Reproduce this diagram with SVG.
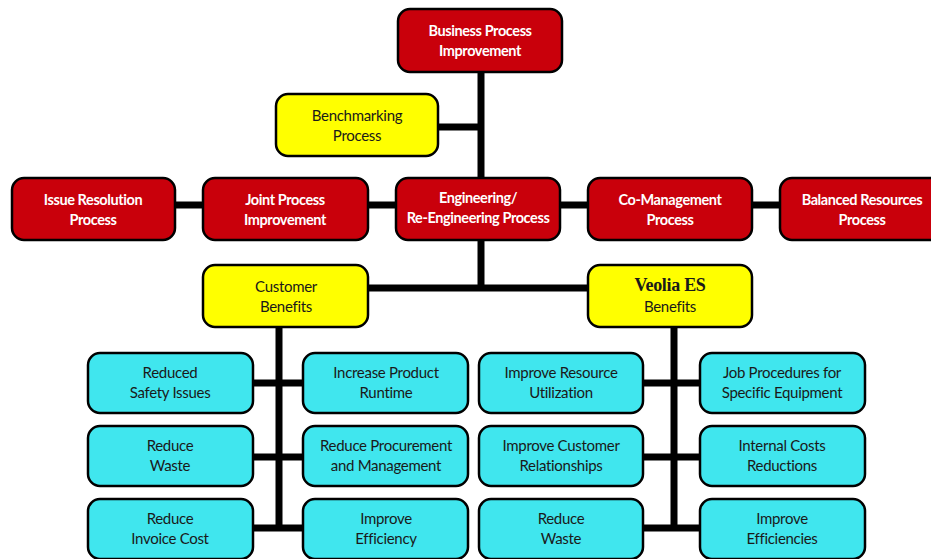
<svg xmlns="http://www.w3.org/2000/svg" width="931" height="559" viewBox="0 0 931 559">
<style>
.box{stroke:#000;stroke-width:2.5}
.red{fill:#C9000B}
.yel{fill:#FFFF00}
.cyan{fill:#40E6EE}
text{font-family:"Lato","Open Sans","Liberation Sans",sans-serif;font-size:15px;text-anchor:middle;letter-spacing:-0.3px}
.wt{fill:#fff;font-weight:bold;font-size:14.5px;letter-spacing:-0.4px}
.dk{fill:#1a1a1a}
.ser{font-family:"Liberation Serif","Times New Roman",serif;font-weight:bold;font-size:18px;letter-spacing:-0.3px}
.conn line{stroke:#000;stroke-width:7}
</style>
<rect width="931" height="559" fill="#fff"/>
<g class="conn" id="connectors">
<line x1="481" y1="70" x2="481" y2="180"/>
<line x1="436" y1="127" x2="481" y2="127"/>
<line x1="173" y1="205" x2="205" y2="205"/>
<line x1="366" y1="205" x2="398" y2="205"/>
<line x1="558" y1="205" x2="590" y2="205"/>
<line x1="750" y1="205" x2="782" y2="205"/>
<line x1="481" y1="238" x2="481" y2="291"/>
<line x1="366" y1="288" x2="590" y2="288"/>
<line x1="279" y1="325" x2="279" y2="531"/>
<line x1="674" y1="325" x2="674" y2="531"/>
<line x1="251" y1="383" x2="305" y2="383"/>
<line x1="251" y1="457" x2="305" y2="457"/>
<line x1="251" y1="528" x2="305" y2="528"/>
<line x1="641" y1="383" x2="702" y2="383"/>
<line x1="641" y1="457" x2="702" y2="457"/>
<line x1="641" y1="528" x2="702" y2="528"/>
</g>
<g id="bpi"><rect class="box red" x="398" y="9" width="164" height="63" rx="12"/><text class="wt" x="480" y="36">Business Process</text><text class="wt" x="480" y="56">Improvement</text></g>
<g id="bench"><rect class="box yel" x="276" y="94" width="162" height="62" rx="12"/><text class="dk" x="357" y="121">Benchmarking</text><text class="dk" x="357" y="141">Process</text></g>
<g id="issue"><rect class="box red" x="12" y="178" width="163" height="62" rx="12"/><text class="wt" x="93" y="205">Issue Resolution</text><text class="wt" x="93" y="225">Process</text></g>
<g id="joint"><rect class="box red" x="203" y="178" width="165" height="62" rx="12"/><text class="wt" x="285" y="205">Joint Process</text><text class="wt" x="285" y="225">Improvement</text></g>
<g id="eng"><rect class="box red" x="396" y="178" width="164" height="62" rx="12"/><text class="wt" x="478" y="203">Engineering/</text><text class="wt" x="478" y="223">Re-Engineering Process</text></g>
<g id="comg"><rect class="box red" x="588" y="178" width="164" height="62" rx="12"/><text class="wt" x="670" y="205">Co-Management</text><text class="wt" x="670" y="225">Process</text></g>
<g id="bal"><rect class="box red" x="780" y="178" width="164" height="62" rx="12"/><text class="wt" x="862" y="205">Balanced Resources</text><text class="wt" x="862" y="225">Process</text></g>
<g id="cust"><rect class="box yel" x="203" y="265" width="165" height="62" rx="12"/><text class="dk" x="286" y="292">Customer</text><text class="dk" x="286" y="312">Benefits</text></g>
<g id="veolia"><rect class="box yel" x="588" y="265" width="164" height="62" rx="12"/><text class="dk ser" x="670" y="291">Veolia ES</text><text class="dk" x="670" y="312">Benefits</text></g>
<g id="c1"><rect class="box cyan" x="88" y="353" width="165" height="60" rx="12"/><text class="dk" x="170" y="378">Reduced</text><text class="dk" x="170" y="398">Safety Issues</text></g>
<g id="c2"><rect class="box cyan" x="88" y="426" width="165" height="60" rx="12"/><text class="dk" x="170" y="451">Reduce</text><text class="dk" x="170" y="471">Waste</text></g>
<g id="c3"><rect class="box cyan" x="88" y="499" width="165" height="60" rx="12"/><text class="dk" x="170" y="524">Reduce</text><text class="dk" x="170" y="544">Invoice Cost</text></g>
<g id="c4"><rect class="box cyan" x="303" y="353" width="165" height="60" rx="12"/><text class="dk" x="386" y="378">Increase Product</text><text class="dk" x="386" y="398">Runtime</text></g>
<g id="c5"><rect class="box cyan" x="303" y="426" width="165" height="60" rx="12"/><text class="dk" x="386" y="451">Reduce Procurement</text><text class="dk" x="386" y="471">and Management</text></g>
<g id="c6"><rect class="box cyan" x="303" y="499" width="165" height="60" rx="12"/><text class="dk" x="386" y="524">Improve</text><text class="dk" x="386" y="544">Efficiency</text></g>
<g id="v1"><rect class="box cyan" x="479" y="353" width="164" height="60" rx="12"/><text class="dk" x="561" y="378">Improve Resource</text><text class="dk" x="561" y="398">Utilization</text></g>
<g id="v2"><rect class="box cyan" x="479" y="426" width="164" height="60" rx="12"/><text class="dk" x="561" y="451">Improve Customer</text><text class="dk" x="561" y="471">Relationships</text></g>
<g id="v3"><rect class="box cyan" x="479" y="499" width="164" height="60" rx="12"/><text class="dk" x="561" y="524">Reduce</text><text class="dk" x="561" y="544">Waste</text></g>
<g id="v4"><rect class="box cyan" x="700" y="353" width="165" height="60" rx="12"/><text class="dk" x="782" y="378">Job Procedures for</text><text class="dk" x="782" y="398">Specific Equipment</text></g>
<g id="v5"><rect class="box cyan" x="700" y="426" width="165" height="60" rx="12"/><text class="dk" x="782" y="451">Internal Costs</text><text class="dk" x="782" y="471">Reductions</text></g>
<g id="v6"><rect class="box cyan" x="700" y="499" width="165" height="60" rx="12"/><text class="dk" x="782" y="524">Improve</text><text class="dk" x="782" y="544">Efficiencies</text></g>
</svg>
